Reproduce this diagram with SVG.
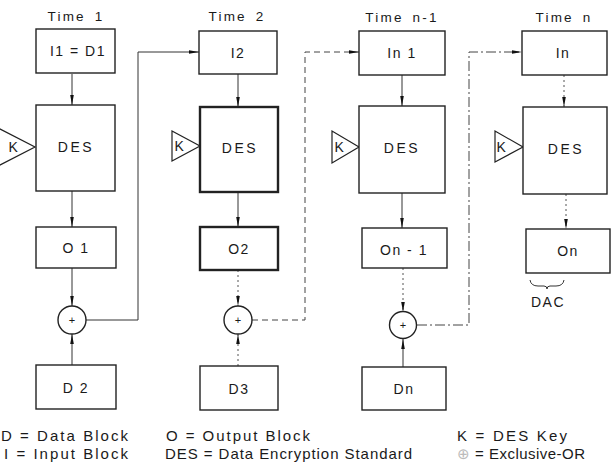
<svg xmlns="http://www.w3.org/2000/svg" width="616" height="468" viewBox="0 0 616 468">
<style>
.box{fill:#fff;stroke:#222;stroke-width:1.4}
.thick{fill:#fff;stroke:#222;stroke-width:2.4}
.t{font-family:"Liberation Sans",Arial,sans-serif;fill:#1a1a1a;text-anchor:middle}
.lbl{font-size:14px;letter-spacing:1.5px}
.des{font-size:14px;letter-spacing:2.5px}
.title{font-size:13.5px;letter-spacing:2.2px;word-spacing:3px}
.leg{font-family:"Liberation Sans",Arial,sans-serif;fill:#1a1a1a;font-size:15px}
.ln{fill:none;stroke:#333;stroke-width:1}
.dash{fill:none;stroke:#444;stroke-width:1;stroke-dasharray:6 4}
.dot{fill:none;stroke:#555;stroke-width:1;stroke-dasharray:2 3}
.tri{fill:#fff;stroke:#222;stroke-width:1.2}
.xor{fill:#fff;stroke:#222;stroke-width:1.4}
</style>
<defs>
<marker id="ah" viewBox="0 0 10 6" refX="10" refY="3" markerWidth="10" markerHeight="6" markerUnits="userSpaceOnUse" orient="auto">
<path d="M0,1.2 L10,3 L0,4.8 Z" fill="#111"/>
</marker>
</defs>

<g id="titles">
<text class="t title" x="76" y="21">Time 1</text>
<text class="t title" x="237" y="21">Time 2</text>
<text class="t title" x="402" y="22">Time n-1</text>
<text class="t title" x="564" y="22">Time n</text>
</g>

<g id="connectors">
<!-- column 1 -->
<line class="ln" x1="72" y1="74" x2="72" y2="105" marker-end="url(#ah)"/>
<line class="ln" x1="72" y1="191" x2="72" y2="227" marker-end="url(#ah)"/>
<line class="ln" x1="72" y1="268" x2="72" y2="306" marker-end="url(#ah)"/>
<line class="ln" x1="72" y1="365" x2="72" y2="334" marker-end="url(#ah)"/>
<polyline class="ln" points="86,320 138,320 138,52 199,52" marker-end="url(#ah)"/>
<!-- column 2 -->
<line class="ln" x1="238" y1="74" x2="238" y2="107" marker-end="url(#ah)"/>
<line class="ln" x1="238" y1="192" x2="238" y2="227" marker-end="url(#ah)"/>
<line class="dot" x1="238" y1="270" x2="238" y2="306" marker-end="url(#ah)"/>
<line class="dot" x1="238" y1="366" x2="238" y2="334" marker-end="url(#ah)"/>
<polyline class="dash" points="252,320 305,320 305,52 359,52" marker-end="url(#ah)"/>
<!-- column 3 -->
<line class="ln" x1="402" y1="75" x2="402" y2="106" marker-end="url(#ah)"/>
<line class="ln" x1="402" y1="193" x2="402" y2="228" marker-end="url(#ah)"/>
<line class="dot" x1="403" y1="268" x2="403" y2="312" marker-end="url(#ah)"/>
<line class="ln" x1="403" y1="367" x2="403" y2="339" marker-end="url(#ah)"/>
<polyline class="dash" points="417,325 469,325 469,52 522,52" marker-end="url(#ah)" style="stroke-dasharray:10 3 2 3"/>
<!-- column 4 -->
<line class="dot" x1="564" y1="75" x2="564" y2="107" marker-end="url(#ah)"/>
<line class="dot" x1="566" y1="194" x2="566" y2="229" marker-end="url(#ah)"/>
</g>

<g id="col1">
<g id="I1"><rect class="box" x="36" y="29" width="79" height="44"/><text class="t lbl" x="78" y="56">I1 = D1</text></g>
<g id="K1"><polygon class="tri" points="-2,128 35,147 -2,166"/><text class="t lbl" x="14" y="152">K</text></g>
<g id="DES1"><rect class="box" x="36" y="105" width="79" height="86"/><text class="t des" x="76" y="152">DES</text></g>
<g id="O1"><rect class="box" x="36" y="227" width="80" height="41"/><text class="t lbl" x="76" y="253">O 1</text></g>
<g id="X1"><circle class="xor" cx="72" cy="320" r="14"/><text class="t" x="72" y="324" font-size="11">+</text></g>
<g id="D2"><rect class="box" x="36" y="365" width="80" height="44"/><text class="t lbl" x="76" y="393">D 2</text></g>
</g>

<g id="col2">
<g id="I2"><rect class="box" x="199" y="31" width="78" height="43"/><text class="t lbl" x="238" y="58">I2</text></g>
<g id="K2"><polygon class="tri" points="172,131 172,161 200,146"/><text class="t lbl" x="180" y="151">K</text></g>
<g id="DES2"><rect class="thick" x="200" y="107" width="78" height="85"/><text class="t des" x="240" y="153">DES</text></g>
<g id="O2"><rect class="thick" x="200" y="227" width="78" height="43"/><text class="t lbl" x="239" y="254">O2</text></g>
<g id="X2"><circle class="xor" cx="238" cy="320" r="14"/><text class="t" x="238" y="324" font-size="11">+</text></g>
<g id="D3"><rect class="box" x="200" y="366" width="78" height="44"/><text class="t lbl" x="239" y="394">D3</text></g>
</g>

<g id="col3">
<g id="In1"><rect class="box" x="359" y="31" width="86" height="44"/><text class="t lbl" x="402" y="58">In 1</text></g>
<g id="K3"><polygon class="tri" points="332,131 332,163 359,147"/><text class="t lbl" x="340" y="152">K</text></g>
<g id="DES3"><rect class="box" x="359" y="106" width="86" height="87"/><text class="t des" x="402" y="153">DES</text></g>
<g id="On1"><rect class="box" x="362" y="228" width="85" height="40"/><text class="t lbl" x="404" y="255">On - 1</text></g>
<g id="X3"><circle class="xor" cx="403" cy="325" r="13.5"/><text class="t" x="403" y="329" font-size="11">+</text></g>
<g id="Dn"><rect class="box" x="362" y="367" width="84" height="43"/><text class="t lbl" x="404" y="394">Dn</text></g>
</g>

<g id="col4">
<g id="In"><rect class="box" x="522" y="31" width="85" height="44"/><text class="t lbl" x="563" y="58">In</text></g>
<g id="K4"><polygon class="tri" points="495,131 495,162 523,147"/><text class="t lbl" x="502" y="152">K</text></g>
<g id="DES4"><rect class="box" x="523" y="107" width="84" height="87"/><text class="t des" x="566" y="154">DES</text></g>
<g id="On"><rect class="box" x="526" y="229" width="84" height="44"/><text class="t lbl" x="568" y="256">On</text></g>
<g id="DAC"><path class="ln" d="M530,280 Q531,286 538,286 L544,286 Q547,286 547,289 Q547,286 550,286 L556,286 Q563,286 564,280" stroke-width="1.2"/><text class="t lbl" x="548" y="307">DAC</text></g>
</g>

<g id="legend">
<text class="leg" x="1" y="441" textLength="127" lengthAdjust="spacing">D = Data Block</text>
<text class="leg" x="4" y="459" textLength="124" lengthAdjust="spacing">I = Input Block</text>
<text class="leg" x="166" y="441" textLength="144" lengthAdjust="spacing">O = Output Block</text>
<text class="leg" x="165" y="459" textLength="247" lengthAdjust="spacing">DES = Data Encryption Standard</text>
<text class="leg" x="457" y="441" textLength="110" lengthAdjust="spacing">K = DES Key</text>
<text class="leg" x="457" y="459" textLength="128" lengthAdjust="spacing"><tspan fill="#bbb">⊕</tspan> = Exclusive-OR</text>
</g>
</svg>
